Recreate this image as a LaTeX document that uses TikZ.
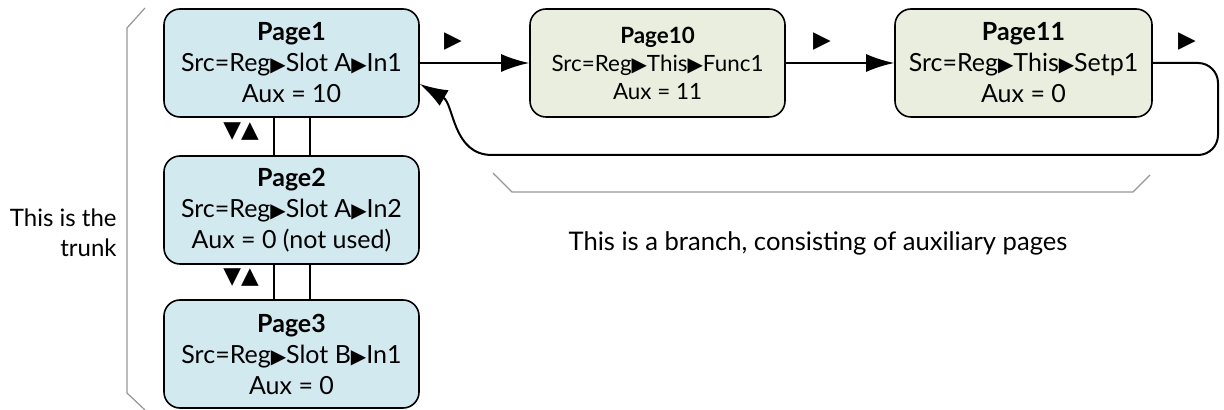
\documentclass[tikz,border=0pt]{standalone}
\usepackage{fontspec}
\setmainfont{Lato}
\newfontfamily\symfont{DejaVu Sans}
\usetikzlibrary{arrows.meta}

\definecolor{trunkblue}{RGB}{210,233,240}
\definecolor{branchgreen}{RGB}{234,238,222}
\definecolor{bracegray}{RGB}{150,150,150}

\newcommand{\tri}{{\symfont\fontsize{10}{10}\selectfont ▶}}

\tikzset{
  page/.style={draw, line width=0.8pt, rounded corners=8pt, minimum width=127.5pt,
    minimum height=54pt, align=center, inner sep=0pt,
    font=\fontsize{12.5}{15.5}\selectfont, execute at begin node={\rule{0pt}{16pt}}},
  trunkpage/.style={page, fill=trunkblue},
  branchpage/.style={page, fill=branchgreen},
  link/.style={line width=1pt, -{Latex[length=14pt,width=9pt]}},
  brace/.style={draw=bracegray, line width=0.6pt},
  mark label/.style={font=\symfont\fontsize{11.5}{11.5}\selectfont, inner sep=0pt},
}

\begin{document}
\begin{tikzpicture}[x=0.5pt, y=-0.5pt]
\useasboundingbox (0,0) rectangle (1224,410);

% trunk pages
\node[trunkpage] (page1) at (291.5,63) {\textbf{Page1}\\Src=Reg\tri Slot A\tri In1\\Aux = 10};
\node[trunkpage] (page2) at (291.5,210) {\textbf{Page2}\\Src=Reg\tri Slot A\tri In2\\Aux = 0 (not used)};
\node[trunkpage] (page3) at (291.5,354) {\textbf{Page3}\\Src=Reg\tri Slot B\tri In1\\Aux = 0};

% branch pages
\node[branchpage, font=\fontsize{11.2}{14}\selectfont, execute at begin node={\rule{0pt}{13pt}}] (page10) at (657.5,63) {\textbf{Page10}\\Src=Reg\tri This\tri Func1\\Aux = 11};
\node[branchpage, minimum width=128.5pt] (page11) at (1023.5,63) {\textbf{Page11}\\Src=Reg\tri This\tri Setp1\\Aux = 0};

% links along the trunk
\foreach \a/\b in {page1/page2, page2/page3}{
  \draw[line width=0.6pt] ([xshift=-8.75pt]\a.south) -- ([xshift=-8.75pt]\b.north);
  \draw[line width=0.6pt] ([xshift=9.25pt]\a.south) -- ([xshift=9.25pt]\b.north);
}
\foreach \y/\n in {132/12, 278/23}{
  \node[mark label] (updown\n) at (241,\y) {▼▲};
}

% links along the branch
\draw[link] (page1.east) -- (page10.west);
\draw[link] (page10.east) -- (page11.west);
\draw[link] (page11.east) [rounded corners=10pt] -- (1218,63) -- (1218,155) [sharp corners] -- (492,155)
  to[out=180, in=-30] ([yshift=-10.5pt]page1.east);
\foreach \x/\n in {453/a, 822/b, 1187/c}{
  \node[mark label] (next\n) at (\x,42) {▶};
}

% braces
\draw[brace] (145,8) -- (127,28) -- (127,393) -- (145,410);
\draw[brace] (493,173) -- (512,192) -- (1133,192) -- (1150,175);

% text
\node[align=right, anchor=east, inner sep=0pt, font=\fontsize{12}{15}\selectfont] (trunktext) at (117,233) {This is the\\trunk};
\node[font=\fontsize{12.8}{15.5}\selectfont] (branchtext) at (818,243) {This is a branch, consisting of auxiliary pages};
\end{tikzpicture}
\end{document}
